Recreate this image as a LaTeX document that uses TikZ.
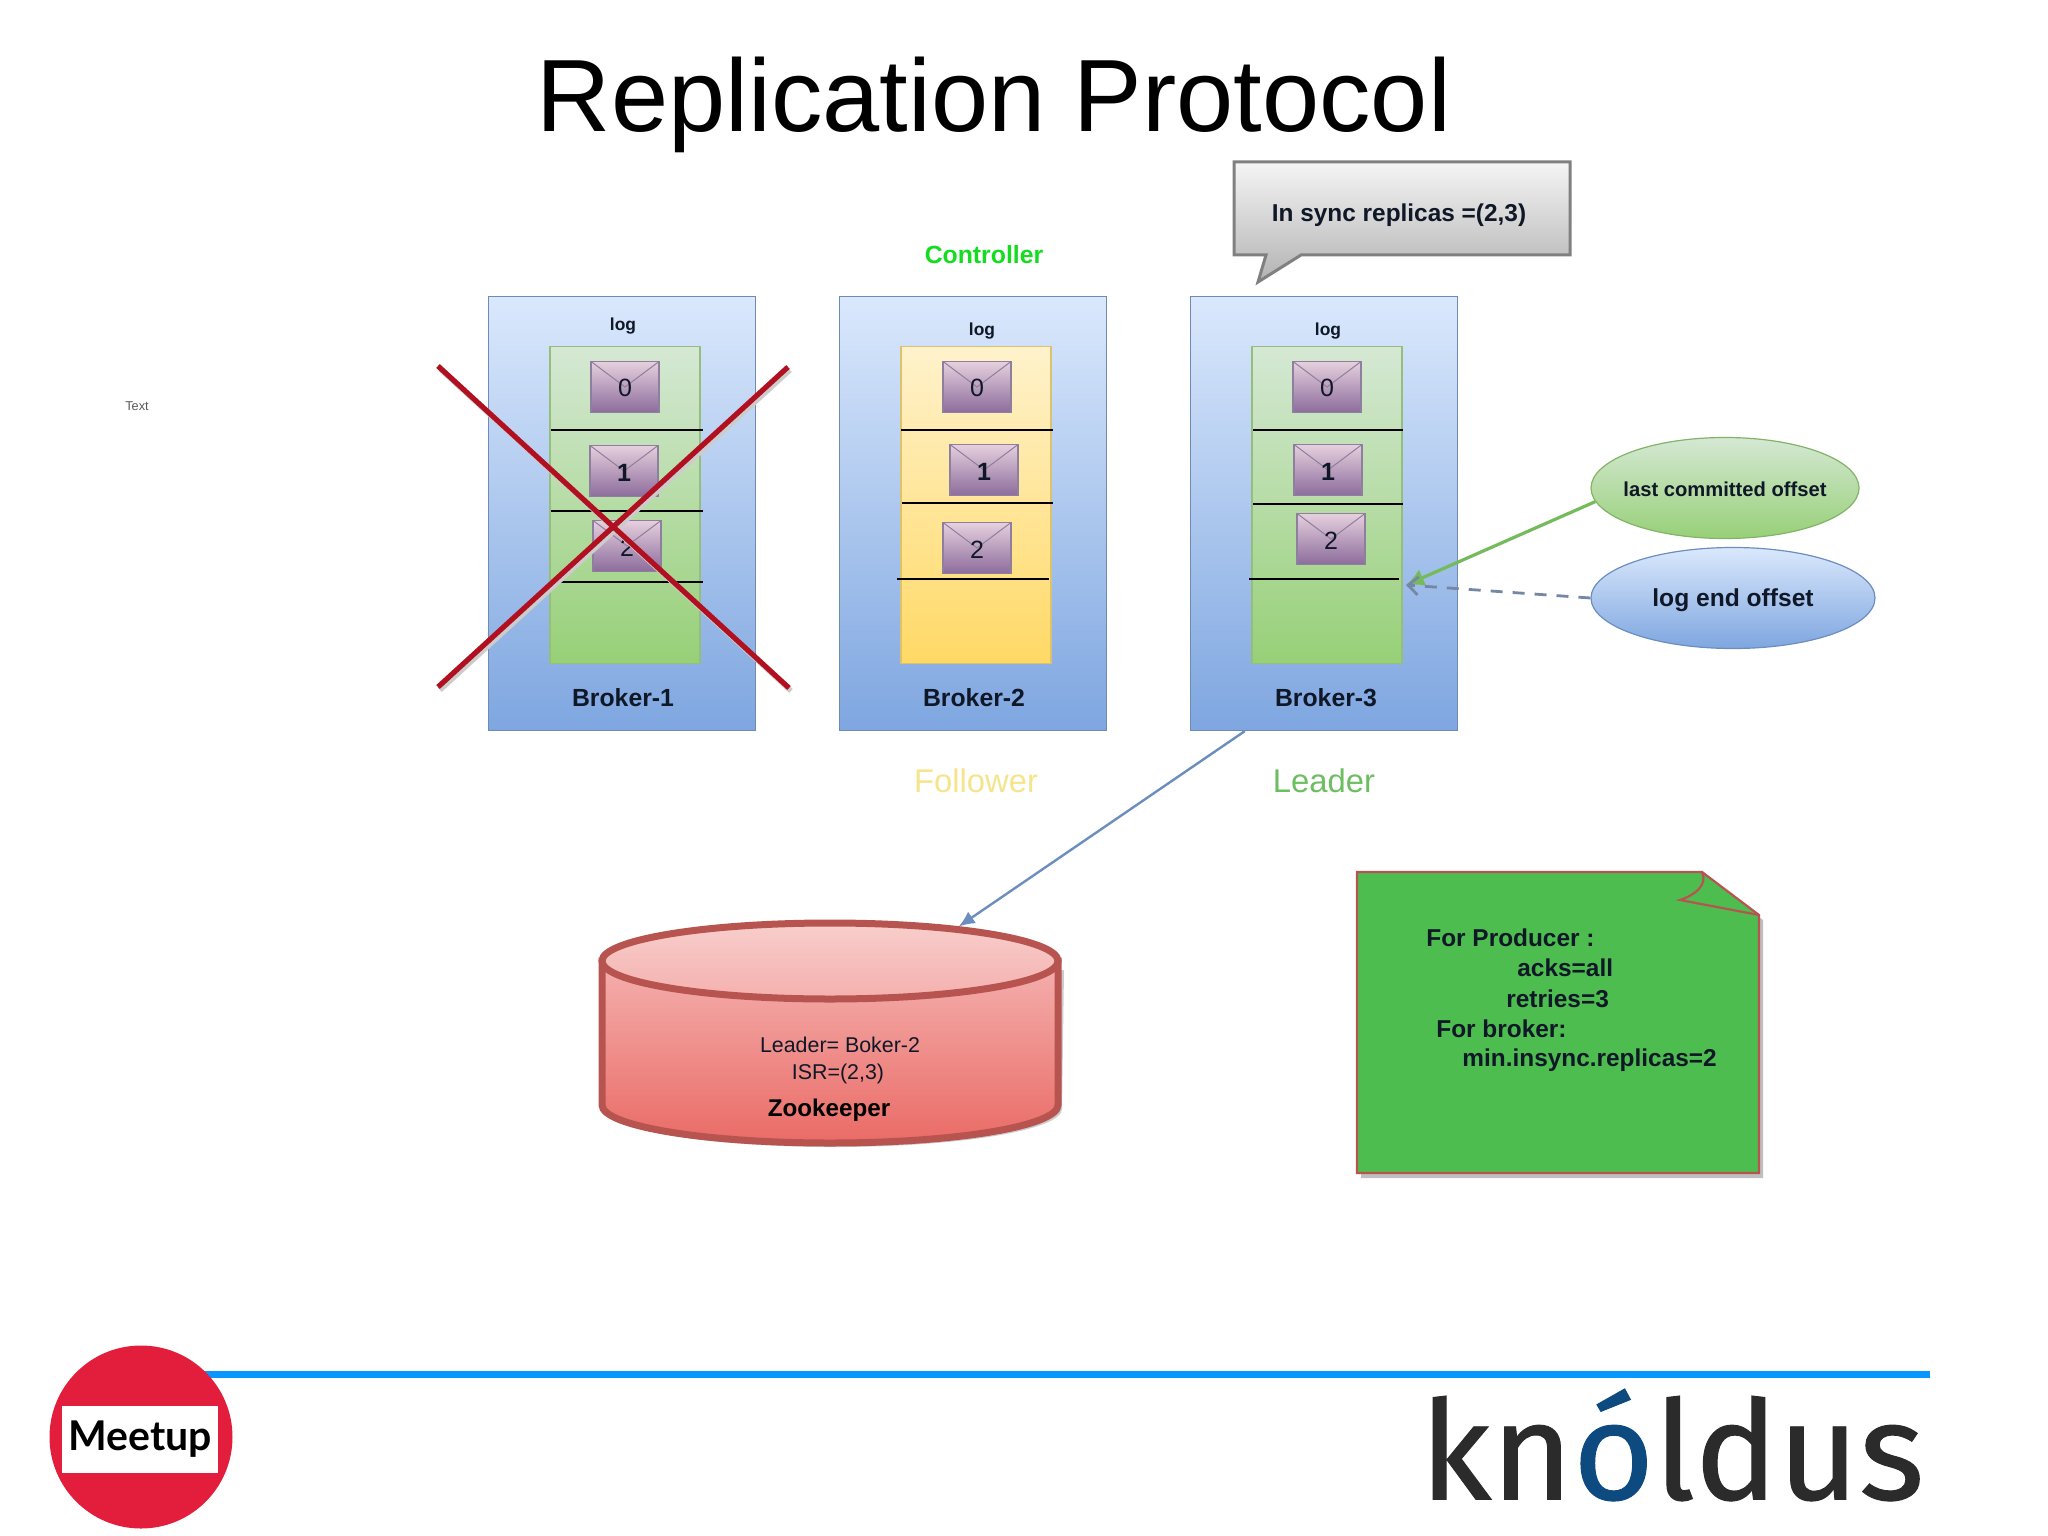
\documentclass[tikz,border=0pt]{standalone}
\usepackage{xcolor}
\usepackage{fontspec}
\setmainfont{Liberation Sans}
\newfontfamily\logofont[FakeBold=0.7]{Fira Sans}
\newfontfamily\meetfont{Lato}
\usepackage{tikz}
\usetikzlibrary{positioning,shapes.geometric,arrows.meta}

\definecolor{brokertop}{HTML}{DAE8FC}
\definecolor{brokerlow}{HTML}{7EA6E0}
\definecolor{brokerline}{HTML}{6C8EBF}
\definecolor{greentop}{HTML}{D5E8D4}
\definecolor{greenlow}{HTML}{97D077}
\definecolor{greenline}{HTML}{82B366}
\definecolor{yellowtop}{HTML}{FFF2CC}
\definecolor{yellowlow}{HTML}{FFD966}
\definecolor{yellowline}{HTML}{D6B656}
\definecolor{msgtop}{HTML}{E6D0DE}
\definecolor{msglow}{HTML}{8C6C9C}
\definecolor{msgline}{HTML}{8F7F9F}
\definecolor{redline}{HTML}{B85450}
\definecolor{redtop}{HTML}{F8CECC}
\definecolor{redmid}{HTML}{F4B0AE}
\definecolor{redlow}{HTML}{EA6B66}
\definecolor{crossred}{HTML}{B01020}
\definecolor{notegreen}{HTML}{4DBD50}
\definecolor{rulerblue}{HTML}{0A96FF}
\definecolor{meetred}{HTML}{E31E3C}
\definecolor{logodark}{HTML}{2B2B2B}
\definecolor{logoblue}{HTML}{0D4A80}
\definecolor{inktext}{HTML}{101828}

\newcommand{\fsize}[1]{\fontsize{#1}{#1}\selectfont}

\tikzset{
  brokerbox/.style={rectangle,draw=brokerline!80!gray,line width=.6pt,top color=brokertop,bottom color=brokerlow,minimum width=133.5pt,minimum height=217pt,inner sep=0pt},
  stackbox/.style={rectangle,line width=.6pt,minimum width=75pt,minimum height=158.5pt,inner sep=0pt},
  greenstack/.style={stackbox,draw=greenline!85!white,top color=greentop,bottom color=greenlow},
  yellowstack/.style={stackbox,draw=yellowline!85!white,top color=yellowtop,bottom color=yellowlow},
  msgbox/.style={rectangle,draw=msgline,line width=.6pt,top color=msgtop,bottom color=msglow,minimum width=34pt,minimum height=25.5pt,inner sep=0pt,text=inktext,text height=10pt,font=\fsize{12.5},
    path picture={\draw[msgline,line width=.5pt] (path picture bounding box.north west) -- (path picture bounding box.center) -- (path picture bounding box.north east);}},
  divline/.style={black,line width=.7pt},
  logtext/.style={font=\fsize{8.7}\bfseries,text=inktext,inner sep=0pt},
  brokertext/.style={font=\fsize{12.4}\bfseries,text=inktext,inner sep=0pt},
  roletext/.style={font=\fsize{16.4},inner sep=0pt},
  offsetshape/.style={ellipse,line width=.6pt,inner sep=0pt,text=inktext},
  crossline/.style={crossred,line width=2.6pt},
  crossshade/.style={black!20,line width=2.6pt},
  zkline/.style={redline,line width=3.5pt},
  notetext/.style={font=\fsize{12.2}\bfseries,anchor=west,inner sep=0pt,text=inktext}
}

\begin{document}
\begin{tikzpicture}[x=0.5pt,y=-0.5pt]
\useasboundingbox (0,0) rectangle (2048,1535);

\node[font=\fsize{51.4},inner sep=0pt] (title) at (994,105) {Replication Protocol};
\node[font=\fsize{6.4},text=black!65,inner sep=0pt] (stray) at (137,406) {Text};

% brokers
\foreach \n/\xb/\xs/\xl/\yl/\xt/\tone in {1/622/625/623/326/623/greenstack,2/973/976/982/331/974/yellowstack,3/1324/1327/1328/331/1326/greenstack}
{
    \node[brokerbox] (broker\n) at (\xb,513.5) {};
    \node[\tone] (stack\n) at (\xs,505) {};
    \node[logtext] (log\n) at (\xl,\yl) {log};
    \node[brokertext] (name\n) at (\xt,698) {Broker-\n};
}

\foreach \xa/\xb/\ya in {551/703/430,551/703/511,557/703/582,901/1053/430,902/1053/503,897/1049/579,1253/1403/430,1253/1403/504,1249/1399/579}
{
    \draw[divline] (\xa,\ya) -- (\xb,\ya);
}

\foreach \xm/\ym/\t [count=\i] in {625/387/0,624/471/\textbf{1},627/546/2,977/387/0,984/470/\textbf{1},977/548/2,1327/387/0,1328/470/\textbf{1},1331/539/2}
{
    \node[msgbox] (msg\i) at (\xm,\ym) {\t};
}

\node[font=\fsize{12.4}\bfseries,text={rgb,255:red,20;green,220;blue,30},inner sep=0pt] (controller) at (984,255) {Controller};
\node[roletext,text={rgb,255:red,246;green,228;blue,140}] (follower) at (976,781) {Follower};
\node[roletext,text={rgb,255:red,108;green,190;blue,96}] (leader) at (1324,781) {Leader};

% cross over broker 1
\draw[crossshade] (440,369) -- (791,691);
\draw[crossshade] (790,370) -- (440,690);
\draw[crossline] (438,366) -- (789,688);
\draw[crossline] (788,367) -- (438,687);

% callout
\draw[draw=black!50,line width=1.5pt,top color=black!4,bottom color=black!30]
    (1234,162) -- (1570,162) -- (1570,255) -- (1301,255) -- (1258,282) -- (1266,255) -- (1234,255) -- cycle;
\node[font=\fsize{12.2}\bfseries,text=inktext,inner sep=0pt] (insync) at (1399,215) {In sync replicas =(2,3)};

% offsets
\node[offsetshape,draw=greenline,top color=greentop,bottom color=greenlow,minimum width=134pt,minimum height=50.5pt,inner xsep=-4pt,text height=9pt,font=\fsize{10.1}\bfseries] (lastoff) at (1725,488) {last committed offset};
\node[offsetshape,draw=brokerline,top color=brokertop,bottom color=brokerlow,minimum width=142pt,minimum height=50.5pt,text depth=0pt,font=\fsize{12.3}\bfseries] (endoff) at (1733,598) {log end offset};
\coordinate (logtip) at (1406,585);
\draw[-{Latex[length=9pt,width=9pt]},greenline!90!green,line width=1.6pt] (lastoff.186) -- (logtip);
\draw[-{Straight Barb[length=5pt,width=9pt]},brokerline!60!gray,line width=1.4pt,dash pattern=on 6pt off 5pt] (endoff.west) -- (logtip);

% zookeeper
\path[fill=black!20] (606,970) -- (606,1109) arc[x radius=228,y radius=38,start angle=180,end angle=0] -- (1064,970) -- cycle;
\draw[zkline,top color=redmid,bottom color=redlow] (602,961) -- (602,1105) arc[x radius=228,y radius=38,start angle=180,end angle=0] -- (1058,961) -- cycle;
\node[ellipse,draw=redline,line width=3.5pt,top color=redtop,bottom color=redmid,minimum width=228pt,minimum height=38pt,inner sep=0pt] (zktop) at (830,961) {};
\node[font=\fsize{10.7},text=inktext,inner sep=0pt] (zkleader) at (840,1045) {Leader= Boker-2};
\node[font=\fsize{10.7},text=inktext,inner sep=0pt] (zkisr) at (838,1074) {ISR=(2,3)};
\node[font=\fsize{12.1}\bfseries,text=black,inner sep=0pt] (zkname) at (829,1110) {Zookeeper};
\draw[-{Latex[length=8pt,width=7pt]},brokerline,line width=1.2pt] (broker3.250) -- (zktop.15);

% note
\path[fill=black!25] (1361,877) -- (1706,877) -- (1763,920) -- (1763,1178) -- (1361,1178) -- cycle;
\draw[redline,line width=1.1pt,fill=notegreen] (1357,872) -- (1702,872) -- (1759,915) -- (1759,1173) -- (1357,1173) -- cycle;
\draw[redline,line width=1.1pt] (1702,872) .. controls (1708,885) and (1695,895) .. (1680,900) -- (1759,915);
\foreach \xn/\yn/\t [count=\i] in {1426/938/{For Producer :},1517/968/{acks=all},1506/999/{retries=3},1436/1029/{For broker:},1462/1060/{min.insync.replicas=2}}
{
    \node[notetext] (note\i) at (\xn,\yn) {\t};
}

% footer
\draw[rulerblue,line width=3.5pt] (200,1374) -- (1930,1374);
\node[circle,fill=meetred,minimum size=91.5pt,inner sep=0pt] (meetcircle) at (141,1437) {};
\node[rectangle,fill=white,minimum width=78pt,minimum height=33.5pt,inner sep=0pt,font=\meetfont\fsize{20.5}\bfseries] (meetup) at (140,1439.5) {Meetup};
\node[font=\logofont\fsize{69},xscale=1.01,inner sep=0pt] (knoldus) at (1672,1445) {\textcolor{logodark}{kn}\textcolor{logoblue}{ó}\textcolor{logodark}{ldus}};

\end{tikzpicture}
\end{document}
